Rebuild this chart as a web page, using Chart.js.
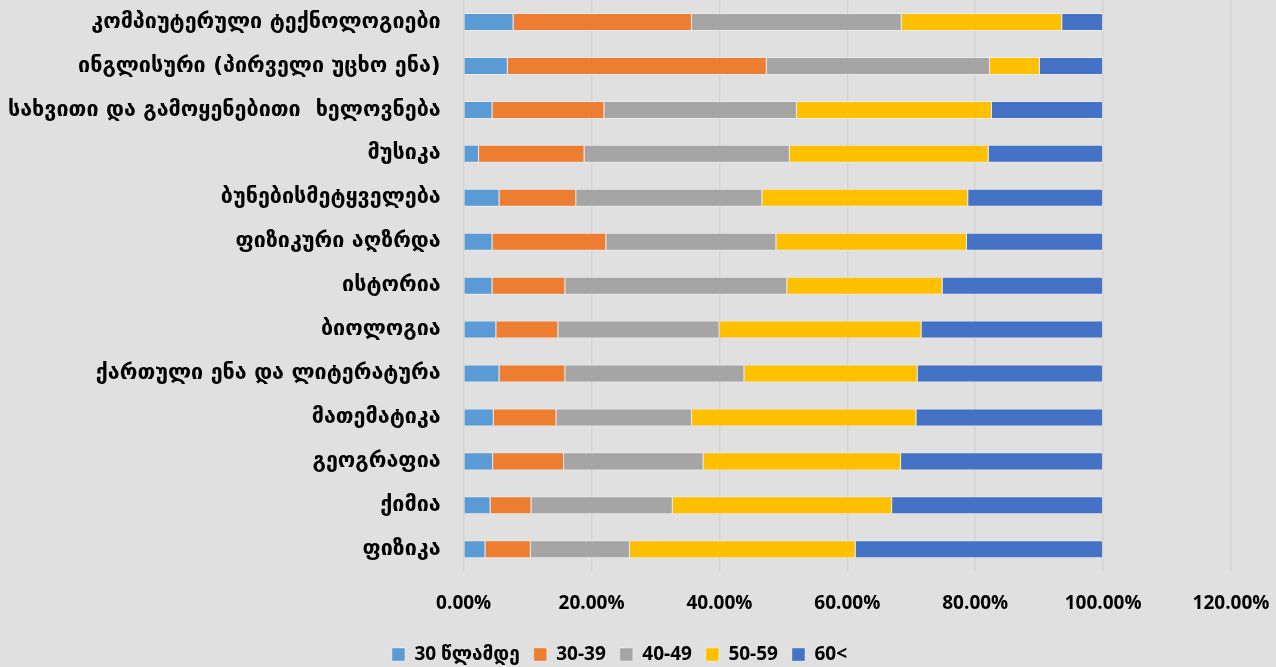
<!DOCTYPE html>
<html>
<head>
<meta charset="utf-8">
<script src="https://cdn.jsdelivr.net/npm/chart.js@4"></script>
<style>
  html, body { margin: 0; padding: 0; background: #e0e0e0; }
  #wrap { width: 1276px; height: 667px; }
</style>
</head>
<body>
<div id="wrap"><canvas id="ageChart" width="1276" height="667"></canvas></div>
<script>
const subjects = [
  'კომპიუტერული ტექნოლოგიები',
  'ინგლისური (პირველი უცხო ენა)',
  'სახვითი და გამოყენებითი  ხელოვნება',
  'მუსიკა',
  'ბუნებისმეტყველება',
  'ფიზიკური აღზრდა',
  'ისტორია',
  'ბიოლოგია',
  'ქართული ენა და ლიტერატურა',
  'მათემატიკა',
  'გეოგრაფია',
  'ქიმია',
  'ფიზიკა'
];

// shares in percent, per age group
const under30 = [7.8, 6.9, 4.5, 2.4, 5.6, 4.5, 4.5, 5.1, 5.6, 4.7, 4.6, 4.2, 3.4];
const age30_39 = [27.9, 40.5, 17.5, 16.5, 12.0, 17.8, 11.4, 9.7, 10.3, 9.8, 11.1, 6.4, 7.1];
const age40_49 = [32.8, 34.9, 30.1, 32.1, 29.1, 26.6, 34.7, 25.2, 28.0, 21.2, 21.8, 22.1, 15.5];
const age50_59 = [25.1, 7.8, 30.5, 31.1, 32.2, 29.8, 24.3, 31.6, 27.1, 35.1, 30.9, 34.3, 35.3];
const over60 = [6.4, 9.9, 17.4, 17.9, 21.1, 21.3, 25.1, 28.4, 29.0, 29.2, 31.6, 33.0, 38.7];

const seriesNames = ['30 წლამდე', '30-39', '40-49', '50-59', '60<'];
const seriesColors = ['#5b9bd5', '#ed7d31', '#a5a5a5', '#ffc000', '#4472c4'];
const seriesData = [under30, age30_39, age40_49, age50_59, over60];

const latinFont = "'Open Sans', 'DejaVu Sans', sans-serif";
const geoFont = "'DejaVu Sans', sans-serif";
Chart.defaults.color = '#000';

new Chart(document.getElementById('ageChart').getContext('2d'), {
  type: 'bar',
  data: {
    labels: subjects,
    datasets: seriesData.map((d, i) => ({
      label: seriesNames[i],
      data: d,
      backgroundColor: seriesColors[i],
      borderColor: 'rgba(255,255,255,0.35)',
      borderWidth: 1,
      categoryPercentage: 1,
      barPercentage: 0.41
    }))
  },
  options: {
    indexAxis: 'y',
    responsive: false,
    animation: false,
    layout: { padding: { top: -2, right: 45, bottom: -7, left: 8 } },
    scales: {
      x: {
        stacked: true,
        min: 0,
        max: 120,
        ticks: {
          stepSize: 20,
          padding: 2,
          font: { family: latinFont, size: 19, weight: 'bold' },
          callback: v => v.toFixed(2) + '%'
        },
        grid: { color: '#d4d4d4', lineWidth: 1.5, drawTicks: true, tickLength: 19, tickColor: 'transparent' },
        border: { display: false },
        afterFit: s => { s.height += 14; }
      },
      y: {
        stacked: true,
        ticks: { padding: 0, autoSkip: false, font: { family: geoFont, size: 21.5, weight: 'bold', lineHeight: 0.01 } },
        grid: { display: true, drawOnChartArea: false, drawTicks: true, tickLength: 23, tickColor: 'transparent' },
        border: { display: false }
      }
    },
    plugins: {
      legend: {
        position: 'bottom',
        labels: {
          boxWidth: 13,
          boxHeight: 13,
          padding: 14,
          font: { family: latinFont, size: 19, weight: 'bold' }
        }
      },
      tooltip: { enabled: false }
    }
  }
});
</script>
</body>
</html>
